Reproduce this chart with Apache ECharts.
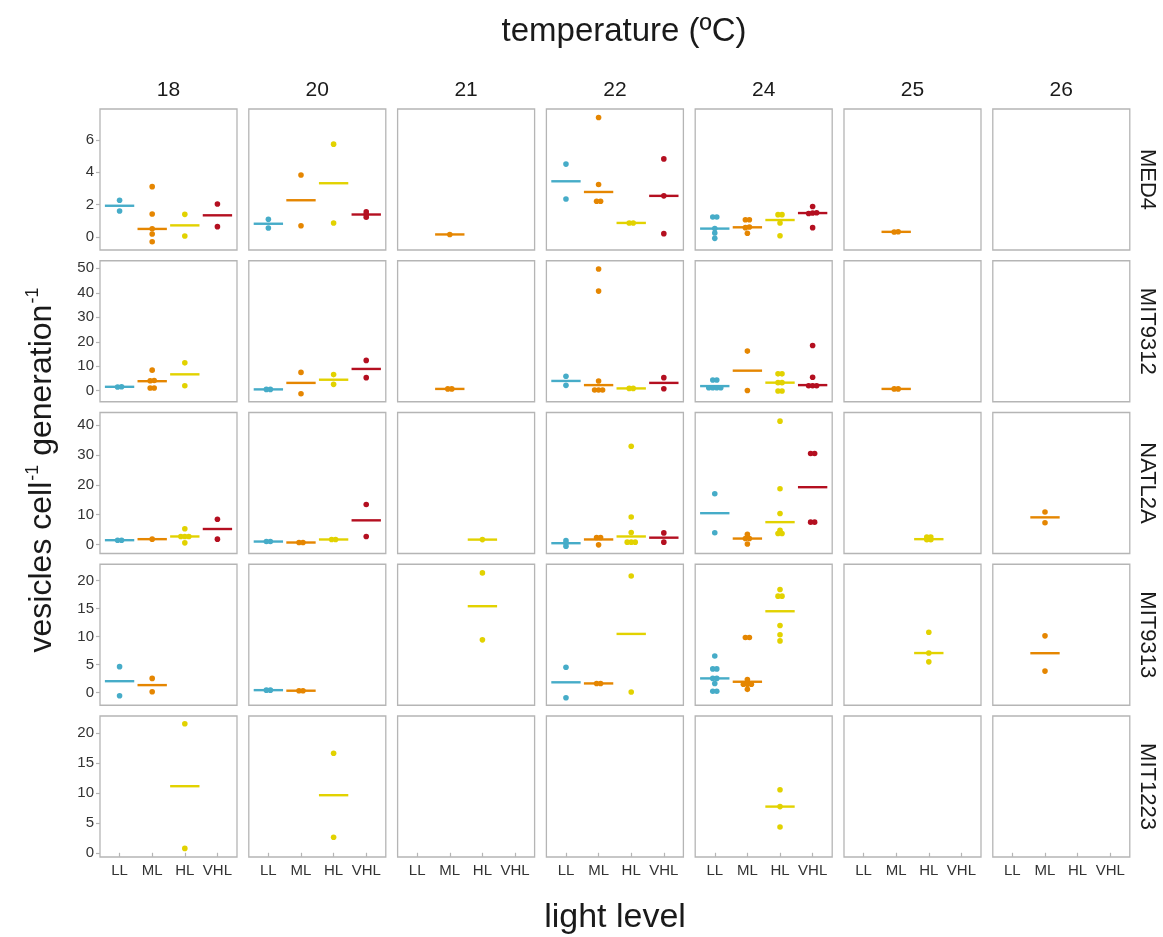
<!DOCTYPE html>
<html><head><meta charset="utf-8">
<script src="https://cdn.jsdelivr.net/npm/echarts@6/dist/echarts.min.js"></script>
<style>html,body{margin:0;padding:0;background:#fff}#c{width:1163px;height:937px}</style>
</head><body><div id="c"></div><script>
const temperatures = ['18','20','21','22','24','25','26'];
const strains = ['MED4','MIT9312','NATL2A','MIT9313','MIT1223'];
const lightLevels = ['LL','ML','HL','VHL'];
const lightColors = ['#46ACC8','#E58601','#E2D200','#B40F20'];
const yTickValues = [[0,2,4,6],[0,10,20,30,40,50],[0,10,20,30,40],[0,5,10,15,20],[0,5,10,15,20]];
const yExtent = [[-0.8,7.9],[-4.5,53.1],[-3.0,44.2],[-2.3,22.9],[-0.7,22.8]];

// [temperature, light level, observed values, median]
const dataMED4 = [
  ['18','LL',[2.27,1.61],1.93], ['18','ML',[3.11,1.42,0.51,0.19,-0.29],0.5],
  ['18','HL',[1.40,0.06],0.72], ['18','VHL',[2.04,0.64],1.34],
  ['20','LL',[1.09,0.56],0.82], ['20','ML',[3.83,0.70],2.27],
  ['20','HL',[5.73,0.87],3.32], ['20','VHL',[1.55,1.38,1.22],1.39],
  ['21','ML',[0.16],0.16],
  ['22','LL',[4.5,2.35],3.44], ['22','ML',[7.38,3.24,2.21,2.21],2.78],
  ['22','HL',[0.87,0.87],0.87], ['22','VHL',[4.82,2.54,0.21],2.54],
  ['24','LL',[1.24,1.24,0.52,0.25,-0.08],0.52], ['24','ML',[1.07,1.07,0.62,0.58,0.23],0.6],
  ['24','HL',[1.38,1.38,0.87,0.08],1.05], ['24','VHL',[1.88,1.5,1.48,1.45,0.58],1.48],
  ['25','ML',[0.33,0.31],0.32]
];
const dataMIT9312 = [
  ['18','LL',[1.6,1.55],1.6], ['18','ML',[8.4,4.2,4.1,1.1,1.1],3.9], ['18','HL',[11.4,2.06],6.7],
  ['20','LL',[0.55,0.55],0.55], ['20','ML',[7.5,-1.24],3.2], ['20','HL',[6.6,2.6],4.5], ['20','VHL',[12.4,5.35],8.9],
  ['21','ML',[0.74,0.74],0.74],
  ['22','LL',[5.9,2.2],4.0], ['22','ML',[49.7,40.7,4.0,0.3,0.3,0.3],2.3],
  ['22','HL',[0.95,0.95],0.95], ['22','VHL',[5.35,0.8],3.2],
  ['24','LL',[4.4,4.4,1.24,1.24,1.24,1.24],1.9], ['24','ML',[16.2,0.1],8.2],
  ['24','HL',[6.9,6.9,3.3,3.3,-0.1,-0.1],3.3], ['24','VHL',[18.5,5.5,2.06,2.06,2.06],2.3],
  ['25','ML',[0.74,0.74],0.74]
];
const dataNATL2A = [
  ['18','LL',[1.46,1.46],1.46], ['18','ML',[1.8],1.8], ['18','HL',[5.3,2.7,2.7,2.7,0.57],2.7], ['18','VHL',[8.45,1.8],5.2],
  ['20','LL',[1.0,1.0],1.0], ['20','ML',[0.68,0.68],0.68], ['20','HL',[1.69,1.69],1.69], ['20','VHL',[13.4,2.7],8.1],
  ['21','HL',[1.65],1.65],
  ['22','LL',[1.3,0.45,-0.55],0.45], ['22','ML',[2.36,2.36,-0.1],1.7],
  ['22','HL',[32.9,9.2,4.05,0.8,0.8,0.8],2.7], ['22','VHL',[3.9,0.8],2.3],
  ['24','LL',[17.0,3.95],10.5], ['24','ML',[3.4,2.0,2.0,0.2],2.0],
  ['24','HL',[41.3,18.7,10.4,4.8,3.7,3.7],7.5], ['24','VHL',[30.5,30.5,7.5,7.5],19.2],
  ['25','HL',[2.5,2.5,1.6,1.6],1.8],
  ['26','ML',[10.9,7.3],9.1]
];
const dataMIT9313 = [
  ['18','LL',[4.6,-0.6],2.0], ['18','ML',[2.5,0.1],1.3],
  ['20','LL',[0.4,0.4],0.4], ['20','ML',[0.3,0.3],0.3],
  ['21','HL',[21.35,9.39],15.4],
  ['22','LL',[4.5,-0.96],1.8], ['22','ML',[1.6,1.6],1.6], ['22','HL',[20.8,0.06],10.45],
  ['24','LL',[6.5,4.2,4.2,2.5,2.5,1.6,0.2,0.2],2.5], ['24','ML',[9.8,9.8,2.3,1.45,1.45,1.45,0.54],1.9],
  ['24','HL',[18.4,17.2,17.2,11.95,10.3,9.2],14.5],
  ['25','HL',[10.74,7.03,5.46],7.03],
  ['26','ML',[10.1,3.8],7.0]
];
const dataMIT1223 = [
  ['18','HL',[21.5,0.73],11.1],
  ['20','HL',[16.6,2.6],9.6],
  ['24','HL',[10.5,7.7,4.3],7.7]
];
const strainData = [dataMED4, dataMIT9312, dataNATL2A, dataMIT9313, dataMIT1223];

// layout
const L0 = 100, CW = 137, CSTEP = 148.8, T0 = 109, RH = 141, RSTEP = 151.75;
const FONT = 'Liberation Sans, Arial, sans-serif';
const X_MIN = 0.4, X_MAX = 4.6;
const DOT = 5.6, DODGE_PX = 4, CLUSTER_PX = 2.5;

function dodge(values, pxPerUnit) {
  // centered rows for points of (nearly) equal value
  const sorted = values.map((v, i) => ({v, i})).sort((a, b) => a.v - b.v);
  const out = new Array(values.length).fill(0);
  let group = [];
  const flush = () => {
    const n = group.length;
    group.forEach((g, k) => { out[g.i] = (k - (n - 1) / 2) * DODGE_PX; });
    group = [];
  };
  sorted.forEach(p => {
    if (group.length && (p.v - group[group.length - 1].v) * pxPerUnit > CLUSTER_PX) flush();
    group.push(p);
  });
  flush();
  return out;
}

const grid = [], xAxis = [], yAxis = [], series = [];
const xPxPerUnit = CW / (X_MAX - X_MIN);
strains.forEach((s, r) => {
  const [ymin, ymax] = yExtent[r];
  const yPxPerUnit = RH / (ymax - ymin);
  temperatures.forEach((t, c) => {
    const idx = r * temperatures.length + c;
    grid.push({left: L0 + c * CSTEP, top: T0 + r * RSTEP, width: CW, height: RH,
      show: true, borderColor: '#b5b5b5', borderWidth: 1.3, backgroundColor: '#fff', containLabel: false});
    xAxis.push({gridIndex: idx, type: 'value', min: X_MIN, max: X_MAX,
      axisLine: {show: false}, splitLine: {show: false},
      axisTick: {show: r === strains.length - 1, customValues: [1,2,3,4], length: 4, lineStyle: {color: '#b5b5b5', width: 1.2}},
      axisLabel: {show: r === strains.length - 1, customValues: [1,2,3,4], formatter: v => lightLevels[Math.round(v) - 1],
        fontSize: 15, color: '#333', fontFamily: FONT, margin: 6}});
    yAxis.push({gridIndex: idx, type: 'value', min: ymin, max: ymax,
      axisLine: {show: false}, splitLine: {show: false},
      axisTick: {show: c === 0, customValues: yTickValues[r], length: 4, lineStyle: {color: '#b5b5b5', width: 1.2}},
      axisLabel: {show: c === 0, customValues: yTickValues[r], formatter: v => String(v),
        fontSize: 15, color: '#333', fontFamily: FONT, margin: 6}});
    const rows = strainData[r].filter(d => d[0] === t);
    const medians = rows.map(d => { const li = lightLevels.indexOf(d[1]); return [li + 1, d[3], li]; });
    const pts = [];
    rows.forEach(d => {
      const li = lightLevels.indexOf(d[1]);
      const off = dodge(d[2], yPxPerUnit);
      d[2].forEach((v, k) => pts.push({value: [li + 1 + off[k] / xPxPerUnit, v], itemStyle: {color: lightColors[li]}}));
    });
    series.push({type: 'custom', xAxisIndex: idx, yAxisIndex: idx, data: medians, silent: true, z: 2,
      encode: {x: 0, y: 1},
      renderItem: (params, api) => {
        const x = api.value(0), y = api.value(1), li = api.value(2);
        const p1 = api.coord([x - 0.45, y]), p2 = api.coord([x + 0.45, y]);
        return {type: 'line', shape: {x1: p1[0], y1: p1[1], x2: p2[0], y2: p2[1]},
          style: {stroke: lightColors[li], lineWidth: 2.4}};
      }});
    series.push({type: 'scatter', xAxisIndex: idx, yAxisIndex: idx, data: pts, symbolSize: DOT, silent: true, z: 3,
      itemStyle: {opacity: 1}});
  });
});

const graphic = [];
graphic.push({type: 'text', x: 624, y: 32,
  style: {text: 'temperature (ºC)', font: '33px ' + FONT, fill: '#1a1a1a', align: 'center', verticalAlign: 'middle'}});
temperatures.forEach((t, c) => graphic.push({type: 'text', x: L0 + c * CSTEP + CW / 2, y: 90,
  style: {text: t, font: '21px ' + FONT, fill: '#1a1a1a', align: 'center', verticalAlign: 'middle'}}));
strains.forEach((s, r) => graphic.push({type: 'text', x: 1147, y: T0 + r * RSTEP + RH / 2, rotation: -Math.PI / 2,
  style: {text: s, font: '22px ' + FONT, fill: '#1a1a1a', align: 'center', verticalAlign: 'middle'}}));
graphic.push({type: 'text', x: 615, y: 918,
  style: {text: 'light level', font: '34px ' + FONT, fill: '#1a1a1a', align: 'center', verticalAlign: 'middle'}});
graphic.push({type: 'text', x: 40, y: 470, rotation: Math.PI / 2,
  style: {text: '{a|vesicles cell}{s|-1}{a| generation}{s|-1}', fill: '#1a1a1a', align: 'center', verticalAlign: 'middle',
    rich: {a: {fontSize: 32, fontFamily: FONT, lineHeight: 36, verticalAlign: 'bottom'},
           s: {fontSize: 18, fontFamily: FONT, lineHeight: 36, verticalAlign: 'top', padding: [2, 0, 0, 1]}}}});

const chart = echarts.init(document.getElementById('c'), null, {renderer: 'canvas'});
chart.setOption({animation: false, backgroundColor: '#fff', grid, xAxis, yAxis, series, graphic});
</script></body></html>
